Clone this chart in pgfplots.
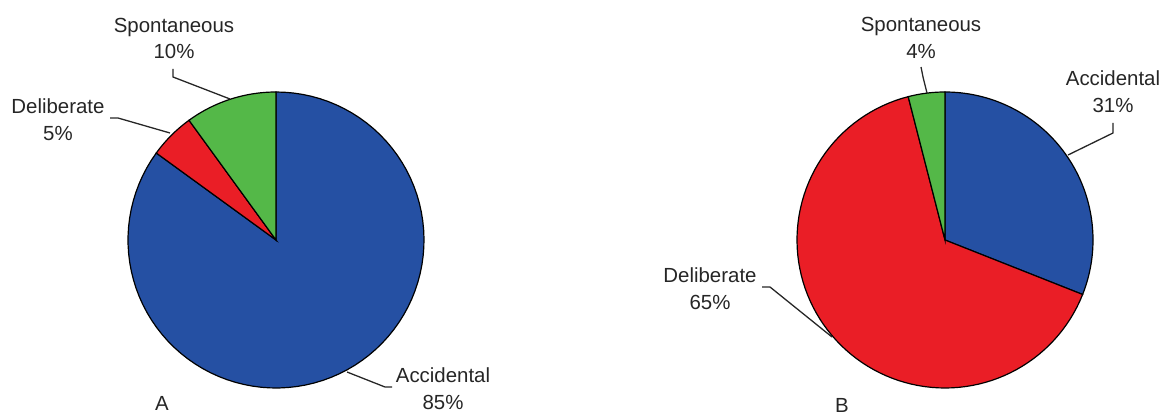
\documentclass[border=0pt]{standalone}
\usepackage{pgfplots}
\pgfplotsset{compat=1.18}
\usepackage{fontspec}
\setmainfont{Liberation Sans}

\definecolor{cblue}{RGB}{37,80,163}
\definecolor{cred}{RGB}{234,30,38}
\definecolor{cgreen}{RGB}{84,184,72}

% one slice: #1 colour, #2 cumulative % at start, #3 cumulative % at end, #4 cx, #5 cy
\newcommand{\pieslice}[5]{%
  \addplot [fill=#1, draw=black, line width=1.2pt, domain={90-3.6*#2}:{90-3.6*#3},
    samples=90, variable=\t]
    ({#4+148*cos(\t)}, {#5+148*sin(\t)}) -- (axis cs:#4,#5) -- cycle;
}

\begin{document}
\begin{tikzpicture}[
    lbl/.style={font=\fontsize{20.5}{27}\selectfont, text=black!85, align=center},
    lead/.style={black!85, line width=1.3pt},
  ]
\begin{axis}[
    width=1164bp, height=414bp, scale only axis,
    xmin=0, xmax=1164, ymin=0, ymax=414,
    hide axis, clip=false,
  ]
  \path (axis cs:0,0) rectangle (axis cs:1164,414);

  % Chart A: Accidental 85, Deliberate 5, Spontaneous 10
  \pieslice{cblue}{0}{85}{276}{174}
  \pieslice{cred}{85}{90}{276}{174}
  \pieslice{cgreen}{90}{100}{276}{174}

  % Chart B: Accidental 31, Deliberate 65, Spontaneous 4
  \pieslice{cblue}{0}{31}{945}{174}
  \pieslice{cred}{31}{96}{945}{174}
  \pieslice{cgreen}{96}{100}{945}{174}

  % leaders A
  \draw[lead] (axis cs:173,345) -- (axis cs:173,337) -- (axis cs:230,315);
  \draw[lead] (axis cs:110,296) -- (axis cs:118,296) -- (axis cs:170,281);
  \draw[lead] (axis cs:347,42) -- (axis cs:385,27) -- (axis cs:392,27);
  % leaders B
  \draw[lead] (axis cs:921,347) -- (axis cs:923,337) -- (axis cs:927,321);
  \draw[lead] (axis cs:1113,291) -- (axis cs:1113,281) -- (axis cs:1068,259);
  \draw[lead] (axis cs:762,127) -- (axis cs:770,127) -- (axis cs:832,77);

  % labels A
  \node[lbl] at (axis cs:174,375.5) {Spontaneous\\10\%};
  \node[lbl] at (axis cs:58,294) {Deliberate\\5\%};
  \node[lbl] at (axis cs:443,25.5) {Accidental\\85\%};
  \node[lbl] at (axis cs:162,11) {A};
  % labels B
  \node[lbl] at (axis cs:921,376) {Spontaneous\\4\%};
  \node[lbl] at (axis cs:1113,322) {Accidental\\31\%};
  \node[lbl] at (axis cs:710,125) {Deliberate\\65\%};
  \node[lbl] at (axis cs:842,9) {B};
\end{axis}
\end{tikzpicture}
\end{document}
